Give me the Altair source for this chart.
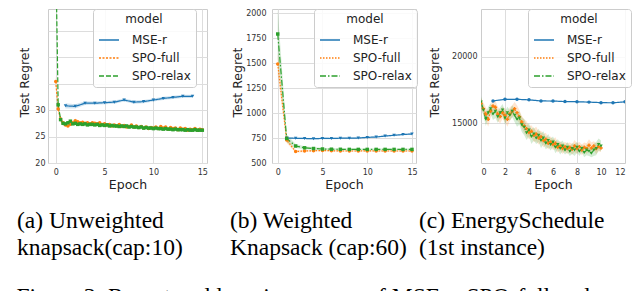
import altair as alt
import pandas as pd

MODELS = ["MSE-r", "SPO-full", "SPO-relax"]
COLORS = ["#1f77b4", "#ff7f0e", "#2ca02c"]

# ---------- panel (a) Unweighted knapsack ----------
A_EP = [0, 0.25, 0.5, 0.75, 1, 1.25, 1.5, 1.75, 2, 2.25, 2.5, 2.75, 3, 3.25, 3.5, 3.75,
        4, 4.25, 4.5, 4.75, 5, 5.25, 5.5, 5.75, 6, 6.25, 6.5, 6.75, 7, 7.25, 7.5, 7.75,
        8, 8.25, 8.5, 8.75, 9, 9.25, 9.5, 9.75, 10, 10.25, 10.5, 10.75, 11, 11.25, 11.5,
        11.75, 12, 12.25, 12.5, 12.75, 13, 13.25, 13.5, 13.75, 14, 14.25, 14.5, 14.75, 15]
A_FULL = [35.4, 30.2, 28.3, 27.6, 27.2, 27.0, 27.3, 27.6, 28.0, 27.8,
          27.6, 27.7, 27.5, 27.6, 27.4, 27.6, 27.5, 27.4, 27.6, 27.3,
          27.4, 27.2, 27.3, 27.0, 27.2, 27.0, 27.3, 26.9, 27.1, 26.8,
          26.9, 27.2, 26.8, 27.0, 26.7, 26.9, 26.6, 26.8, 26.5, 26.7,
          26.6, 26.8, 26.5, 26.9, 26.6, 26.8, 26.4, 26.7, 26.5, 26.6,
          26.3, 26.6, 26.4, 26.5, 26.2, 26.4, 26.3, 26.5, 26.2, 26.4, 26.3]
A_FULL_ERR = [1.2, 0.8, 0.5, 0.4, 0.35, 0.3, 0.35, 0.4, 0.4, 0.35,
              0.3, 0.3, 0.3, 0.3, 0.3, 0.3, 0.3, 0.3, 0.3, 0.3,
              0.3, 0.3, 0.3, 0.3, 0.3, 0.3, 0.3, 0.3, 0.3, 0.3,
              0.3, 0.3, 0.3, 0.3, 0.3, 0.3, 0.3, 0.3, 0.3, 0.3,
              0.3, 0.3, 0.3, 0.3, 0.3, 0.3, 0.3, 0.3, 0.3, 0.3,
              0.3, 0.3, 0.3, 0.3, 0.3, 0.3, 0.3, 0.3, 0.3, 0.3, 0.3]
A_RELAX = [60.0, 31.0, 28.2, 27.5, 27.4, 27.6, 27.9, 27.4, 27.5, 27.3,
           27.4, 27.3, 27.4, 27.2, 27.3, 27.3, 27.2, 27.3, 27.1, 27.2,
           27.1, 27.2, 27.0, 27.1, 27.0, 27.0, 26.9, 27.0, 26.9, 27.0,
           26.8, 26.9, 26.8, 26.8, 26.7, 26.8, 26.6, 26.7, 26.6, 26.6,
           26.5, 26.6, 26.5, 26.5, 26.4, 26.5, 26.4, 26.4, 26.3, 26.4,
           26.3, 26.3, 26.3, 26.2, 26.3, 26.2, 26.2, 26.3, 26.2, 26.2, 26.2]
A_RELAX_ERR = [3.0, 0.9, 0.5, 0.4, 0.35, 0.3, 0.3, 0.3, 0.3, 0.3,
               0.25, 0.25, 0.25, 0.25, 0.25, 0.25, 0.25, 0.25, 0.25, 0.25,
               0.25, 0.25, 0.25, 0.25, 0.25, 0.25, 0.25, 0.25, 0.25, 0.25,
               0.25, 0.25, 0.25, 0.25, 0.25, 0.25, 0.25, 0.25, 0.25, 0.25,
               0.25, 0.25, 0.25, 0.25, 0.25, 0.25, 0.25, 0.25, 0.25, 0.25,
               0.25, 0.25, 0.25, 0.25, 0.25, 0.25, 0.25, 0.25, 0.25, 0.25, 0.25]
A_MSE_EP = [1, 2, 3, 4, 5, 6, 7, 8, 9, 10, 11, 12, 13, 14]
A_MSE = [30.8, 30.7, 31.3, 31.3, 31.4, 31.5, 31.9, 31.5, 31.6, 31.9, 32.2, 32.4, 32.6, 32.6]
A_MSE_ERR = [0.5, 0.4, 0.35, 0.3, 0.3, 0.3, 0.3, 0.3, 0.3, 0.3, 0.3, 0.3, 0.3, 0.3]

# ---------- panel (b) Weighted knapsack ----------
B_EP = [0, 1, 2, 3, 4, 5, 6, 7, 8, 9, 10, 11, 12, 13, 14, 15]
B_FULL = [1490, 730, 615, 620, 622, 625, 622, 620, 620, 620, 621, 620, 620, 620, 620, 620]
B_FULL_ERR = [110, 30, 12, 10, 8, 8, 8, 8, 8, 8, 8, 8, 8, 8, 8, 8]
B_RELAX = [1790, 745, 670, 652, 645, 640, 638, 637, 636, 636, 636, 636, 636, 636, 636, 636]
B_RELAX_ERR = [250, 40, 20, 15, 12, 12, 10, 10, 10, 10, 10, 10, 10, 10, 10, 10]
B_MSE_EP = [1, 2, 3, 4, 5, 6, 7, 8, 9, 10, 11, 12, 13, 14, 15]
B_MSE = [750, 747, 745, 743, 746, 745, 748, 748, 750, 756, 760, 770, 777, 785, 790]
B_MSE_ERR = [8, 8, 8, 8, 8, 8, 8, 8, 8, 8, 8, 8, 8, 8, 8]

# ---------- panel (c) EnergySchedule ----------
C_EP = [0, 0.2, 0.4, 0.6, 0.8, 1, 1.2, 1.4, 1.6, 1.8, 2, 2.2, 2.4, 2.6, 2.8, 3, 3.2,
        3.4, 3.6, 3.8, 4, 4.2, 4.4, 4.6, 4.8, 5, 5.2, 5.4, 5.6, 5.8, 6, 6.2, 6.4, 6.6,
        6.8, 7, 7.2, 7.4, 7.6, 7.8, 8, 8.2, 8.4, 8.6, 8.8, 9, 9.2, 9.4, 9.6, 9.8, 10]
C_FULL = [16500, 16100, 15700, 15300, 15900, 16300, 16200, 15700, 15500, 15800,
          15600, 15300, 15700, 15900, 16100, 15800, 15500, 15100, 14800, 14600,
          14300, 14400, 14100, 14200, 13900, 14000, 13700, 13800, 13500, 13600,
          13400, 13500, 13200, 13300, 13100, 13250, 13100, 13200, 13050, 13300,
          13100, 13250, 13000, 13200, 13100, 13350, 13150, 13300, 13100, 13250, 13150]
C_FULL_ERR = [400, 450, 500, 550, 500, 450, 500, 550, 500, 450,
              500, 550, 500, 450, 500, 550, 500, 450, 500, 550,
              500, 450, 500, 550, 500, 450, 500, 500, 450, 400,
              400, 450, 400, 350, 400, 350, 400, 350, 400, 450,
              400, 350, 400, 350, 400, 450, 400, 350, 400, 350, 300]
C_RELAX = [16600, 16000, 15300, 15800, 16100, 15700, 15900, 15500, 15800, 16000,
           15400, 15800, 15600, 15900, 15600, 15300, 15400, 14900, 14700, 14300,
           14500, 14000, 14200, 13900, 14100, 13700, 13900, 13500, 13700, 13400,
           13600, 13200, 13400, 13100, 13300, 13000, 13200, 12900, 13100, 13000,
           13200, 12900, 13100, 12800, 13000, 12900, 12750, 13000, 13100, 13400, 13300]
C_RELAX_ERR = [450, 400, 500, 450, 400, 450, 500, 450, 400, 450,
               500, 450, 400, 450, 500, 550, 500, 550, 600, 550,
               500, 550, 500, 450, 500, 550, 500, 450, 500, 450,
               400, 450, 400, 450, 400, 350, 400, 350, 400, 450,
               400, 350, 300, 350, 400, 350, 300, 450, 500, 450, 400]
C_MSE_EP = [1, 2, 3, 4, 5, 6, 7, 8, 9, 10, 11, 12]
C_MSE = [16680, 16800, 16800, 16760, 16680, 16670, 16630, 16620, 16590, 16550, 16540, 16610]
C_MSE_ERR = [40, 40, 40, 40, 40, 40, 40, 40, 40, 40, 40, 40]

CAPTIONS = [["(a) Unweighted", "knapsack(cap:10)"],
            ["(b) Weighted", "Knapsack (cap:60)"],
            ["(c) EnergySchedule", "(1st instance)"]]
FIG_TEXT = "Figure 3: Regret and learning curves of MSE-r, SPO-full and"


def build_frame(mse_ep, mse, mse_err, ep, full, full_err, relax, relax_err):
    rows = []
    for name, xs, ys, es in [("MSE-r", mse_ep, mse, mse_err),
                             ("SPO-full", ep, full, full_err),
                             ("SPO-relax", ep, relax, relax_err)]:
        for x, y, e in zip(xs, ys, es):
            rows.append({"Epoch": x, "regret": y, "lo": y - e, "hi": y + e, "model": name})
    return pd.DataFrame(rows)


def panel(df, width, xdom, xvals, ydom, yvals, ylabel_expr, ylabel_pad, title_x,
          dashes, shapes, legend_x, caption, cap_dx, xgrid_test="true"):
    legend = alt.Legend(title="model", orient="none", legendX=legend_x, legendY=0,
                        symbolType="stroke", symbolSize=400, symbolStrokeWidth=1.5,
                        symbolOpacity=1,
                        labelFont="DejaVu Sans", labelFontSize=12, labelColor="#222",
                        titleFont="DejaVu Sans", titleFontSize=12, titleFontWeight="normal",
                        titleColor="#222", titleAnchor="middle", titlePadding=3,
                        fillColor="rgba(255,255,255,0.85)", strokeColor="#cccccc",
                        cornerRadius=3, padding=5, rowPadding=1, labelOffset=12)
    cscale = alt.Scale(domain=MODELS, range=COLORS)
    color = alt.Color("model:N", scale=cscale, legend=legend)
    xenc = alt.X("Epoch:Q", scale=alt.Scale(domain=xdom, nice=False, zero=False),
                 axis=alt.Axis(values=xvals, title="Epoch", labelPadding=5, titlePadding=2,
                               gridOpacity={"condition": {"test": xgrid_test, "value": 1}, "value": 0}))
    yaxis = alt.Axis(values=yvals, title="Test Regret", labelExpr=ylabel_expr, format="d",
                     labelPadding=ylabel_pad, titleX=title_x, titleY=73)
    yscale = alt.Scale(domain=ydom, nice=False, zero=False)
    base = alt.Chart(df)
    band = base.mark_area(opacity=0.2, clip=True).encode(
        x=xenc, y=alt.Y("lo:Q", scale=yscale, axis=yaxis), y2="hi:Q", color=color)
    line = base.mark_line(strokeWidth=1.2, clip=True).encode(
        x=xenc, y=alt.Y("regret:Q", scale=yscale, axis=yaxis), color=color,
        strokeDash=alt.StrokeDash("model:N", scale=alt.Scale(domain=MODELS, range=dashes),
                                  legend=legend))
    layers = [band, line]
    for m, shp in zip(MODELS, shapes):
        layers.append(
            base.transform_filter(alt.datum.model == m)
            .mark_point(filled=True, size=12, opacity=1, clip=True, shape=shp)
            .encode(x=xenc, y=alt.Y("regret:Q", scale=yscale, axis=yaxis), color=color))
    return alt.layer(*layers).properties(
        width=width, height=154,
        title=alt.TitleParams(caption, orient="bottom", anchor="start", frame="group",
                              dx=cap_dx, offset=18, font="Liberation Serif", fontSize=23.5,
                              fontWeight="normal", lineHeight=27, color="black"))


dfa = build_frame(A_MSE_EP, A_MSE, A_MSE_ERR, A_EP, A_FULL, A_FULL_ERR, A_RELAX, A_RELAX_ERR)
dfb = build_frame(B_MSE_EP, B_MSE, B_MSE_ERR, B_EP, B_FULL, B_FULL_ERR, B_RELAX, B_RELAX_ERR)
dfc = build_frame(C_MSE_EP, C_MSE, C_MSE_ERR, C_EP, C_FULL, C_FULL_ERR, C_RELAX, C_RELAX_ERR)

pa = panel(dfa, 159, [-0.79, 15.48], [0, 5, 10, 15], [20, 49.1], [20, 25, 30, 35, 40, 45],
           "datum.value <= 30 ? datum.label : ''", 3, -17,
           [[1, 0], [2, 1.5], [5, 2]], ["triangle-down", "circle", "square"], 45,
           CAPTIONS[0], -31)
pb = panel(dfb, 144, [-0.64, 15.45], [0, 5, 10, 15], [500, 2040],
           [500, 750, 1000, 1250, 1500, 1750, 2000], "datum.label", 6, -28,
           [[1, 0], [1.5, 1.5], [6, 2, 1.5, 2]], ["triangle-down", "circle", "square"], 42,
           CAPTIONS[1], -42)
pc = panel(dfc, 144, [0, 12], [0, 2, 4, 6, 8, 10, 12], [12020, 23580], [15000, 20000],
           "datum.label", 4, -40,
           [[1, 0], [1.5, 1.5], [6, 2, 1.5, 2]], ["circle", "cross", "triangle-down"], 47,
           CAPTIONS[2], -62, "datum.value == 2 || datum.value == 8")

chart = alt.hconcat(pa, pb, pc, spacing=65, bounds="flush").resolve_scale(
    color="independent", strokeDash="independent",
    x="independent", y="independent"
).resolve_legend(
    color="independent", strokeDash="independent"
).properties(
    padding={"left": 8, "top": 0, "right": 0, "bottom": 0},
    title=alt.TitleParams(FIG_TEXT, orient="bottom", anchor="start", offset=25,
                          font="Liberation Serif", fontSize=23.5, fontWeight="normal",
                          color="black")
).configure_axis(
    labelFont="DejaVu Sans", labelFontSize=8, labelColor="#333333",
    titleFont="DejaVu Sans", titleFontSize=12.5, titleFontWeight="normal", titleColor="#222222",
    tickSize=0, domain=False, gridColor="#dddddd", gridWidth=1
).configure_view(
    stroke="#cccccc", strokeWidth=1
)

chart.save("out.html", embed_options={"renderer": "svg", "actions": False})
